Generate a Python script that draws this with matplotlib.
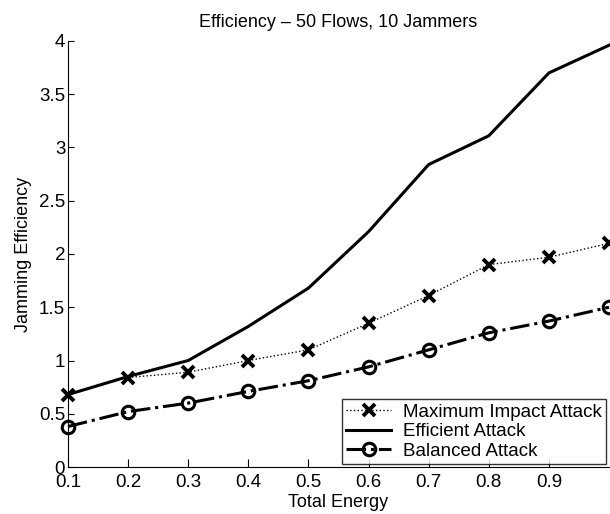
import matplotlib.pyplot as plt

plt.rcParams['font.family'] = ['Liberation Sans', 'DejaVu Sans']

# total energy levels
energy = [0.1, 0.2, 0.3, 0.4, 0.5, 0.6, 0.7, 0.8, 0.9, 1.0]

# jamming efficiency per strategy
max_impact = [0.68, 0.84, 0.89, 1.0, 1.10, 1.35, 1.61, 1.90, 1.97, 2.10]
efficient = [0.68, 0.85, 1.0, 1.32, 1.68, 2.21, 2.84, 3.11, 3.70, 3.96]
balanced = [0.38, 0.52, 0.60, 0.71, 0.81, 0.94, 1.10, 1.26, 1.37, 1.50]

x_ticks = [0.1, 0.2, 0.3, 0.4, 0.5, 0.6, 0.7, 0.8, 0.9]
x_labels = ['0.1', '0.2', '0.3', '0.4', '0.5', '0.6', '0.7', '0.8', '0.9']
y_ticks = [0, 0.5, 1, 1.5, 2, 2.5, 3, 3.5, 4]
y_labels = ['0', '0.5', '1', '1.5', '2', '2.5', '3', '3.5', '4']

fig = plt.figure(figsize=(6.1, 5.14), dpi=100)
ax = fig.add_axes([68 / 610, 47 / 514, 541 / 610, 426 / 514])

ax.plot(energy, max_impact, color='black', linestyle=':', linewidth=1.0,
        marker='x', markersize=8, markeredgewidth=2.8,
        label='Maximum Impact Attack', clip_on=False)
ax.plot(energy, efficient, color='black', linestyle='-', linewidth=2.2,
        label='Efficient Attack', clip_on=False)
ax.plot(energy, balanced, color='black', linestyle='-.', linewidth=2.2,
        marker='o', markersize=9, markerfacecolor='none', markeredgewidth=2.2,
        label='Balanced Attack', clip_on=False)

ax.set_xlim(0.1, 1.0)
ax.set_ylim(0, 4)
ax.set_xticks(x_ticks)
ax.set_xticklabels(x_labels)
ax.set_yticks(y_ticks)
ax.set_yticklabels(y_labels)
ax.tick_params(axis='x', direction='in', length=6, labelsize=13.5, pad=5)
ax.tick_params(axis='y', direction='in', length=4, labelsize=13.5, pad=2)
ax.spines['top'].set_visible(False)
ax.spines['right'].set_visible(False)

ax.set_xlabel('Total Energy', fontsize=13, labelpad=2)
ax.set_ylabel('Jamming Efficiency', fontsize=13, labelpad=5)
ax.set_title('Efficiency \u2013 50 Flows, 10 Jammers', fontsize=13, pad=10)

leg = ax.legend(loc='lower right', fontsize=13.5, frameon=True, fancybox=False,
                borderaxespad=0.15, handlelength=2.4, labelspacing=0.12,
                borderpad=0.25, handletextpad=0.6)
leg.get_frame().set_edgecolor('black')
leg.get_frame().set_linewidth(1.0)

fig.savefig('out.png', dpi=100)
